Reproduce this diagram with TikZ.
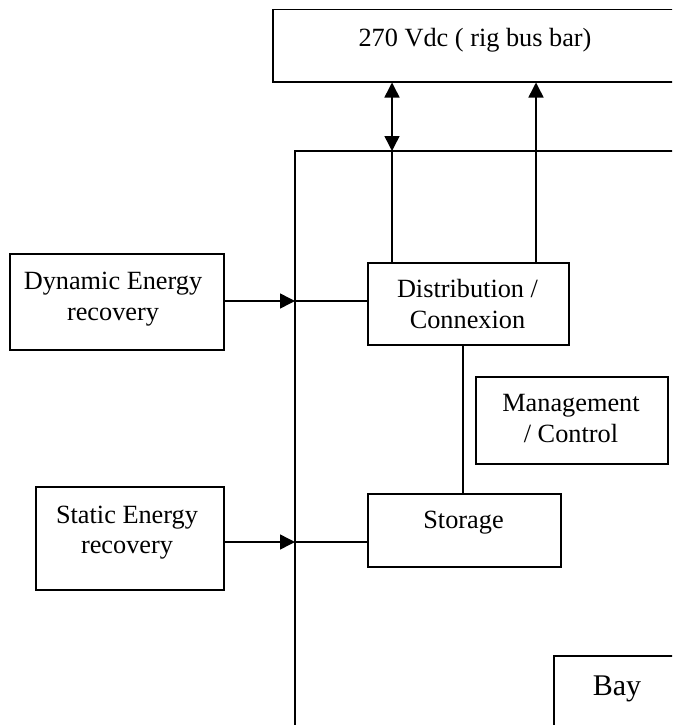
\documentclass[tikz,border=0pt]{standalone}
\usepackage{fontspec}
\setmainfont{Liberation Serif}
\usetikzlibrary{arrows.meta}
\begin{document}
\begin{tikzpicture}[x=1pt,y=-1pt,line width=1.5pt,
  box/.style={draw,rectangle,anchor=north west,inner sep=0pt,line width=1.5pt},
  txt/.style={anchor=base,inner sep=0pt,font=\fontsize{26.3}{31}\selectfont},
  bigtxt/.style={anchor=base,inner sep=0pt,font=\fontsize{30}{34}\selectfont},
  tipend/.style={-{Triangle[width=15pt,length=15pt]}},
  tipboth/.style={{Triangle[width=15pt,length=15pt]}-{Triangle[width=15pt,length=15pt]}}]
\useasboundingbox (0,0) rectangle (672,725);
\clip (0,0) rectangle (672,725);
% boxes
\node[box,minimum width=418pt,minimum height=72pt] (rig) at (272,9) {};
\node[box,minimum width=214pt,minimum height=96pt] (dyn) at (9,253) {};
\node[box,minimum width=201pt,minimum height=82pt] (dist) at (367,262) {};
\node[box,minimum width=192pt,minimum height=87pt] (mgmt) at (475,376) {};
\node[box,minimum width=193pt,minimum height=73pt] (stor) at (367,493) {};
\node[box,minimum width=188pt,minimum height=103pt] (stat) at (35,486) {};
\node[box,minimum width=140pt,minimum height=90pt] (bay) at (553,655) {};
% texts
\node[txt] (rigt) at (475,47) {270 Vdc ( rig bus bar)};
\node[txt] (dynt1) at (113,289) {Dynamic Energy};
\node[txt] (dynt2) at (113,320) {recovery};
\node[txt] (distt1) at (467.5,297) {Distribution /};
\node[txt] (distt2) at (467.5,328) {Connexion};
\node[txt] (mgmtt1) at (571,411) {Management};
\node[txt] (mgmtt2) at (571,442) {/ Control};
\node[txt] (stort) at (463.5,528) {Storage};
\node[txt] (statt1) at (127,523) {Static Energy};
\node[txt] (statt2) at (127,553) {recovery};
\node[bigtxt] (bayt) at (617,695) {Bay};
% frame (bus)
\coordinate (fbot) at (295,730);
\coordinate (ftop) at (295,151);
\coordinate (fright) at (690,151);
\draw (fbot) -- (ftop) -- (fright);
% vertical connectors to rig bus bar
\coordinate (a1) at (392,151);
\draw[tipboth] (a1 |- rig.south) -- (a1);
\draw (a1) -- (a1 |- dist.north);
\coordinate (a2) at (536,262);
\draw[tipend] (a2) -- (a2 |- rig.south);
% distribution to storage
\coordinate (c1) at (463,344);
\draw (c1) -- (c1 |- stor.north);
% horizontal arrows
\coordinate (d1) at (223,301);
\draw[tipend] (d1) -- (d1 -| ftop);
\draw (d1 -| ftop) -- (d1 -| dist.west);
\coordinate (s1) at (223,542);
\draw[tipend] (s1) -- (s1 -| ftop);
\draw (s1 -| ftop) -- (s1 -| stor.west);
\end{tikzpicture}
\end{document}
